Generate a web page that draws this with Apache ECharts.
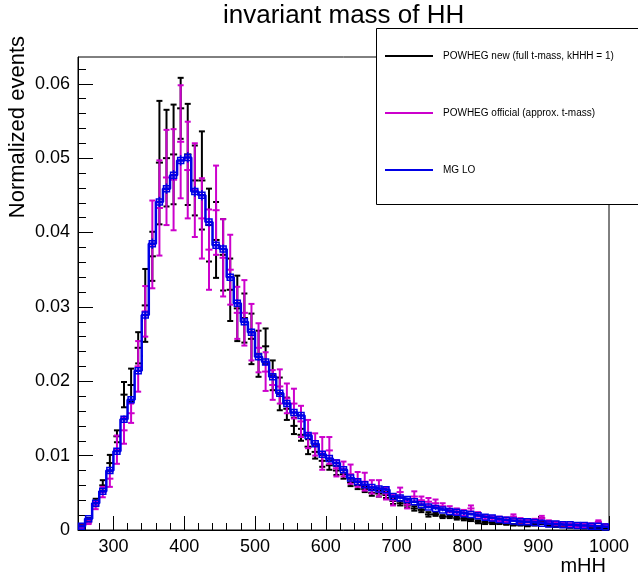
<!DOCTYPE html>
<html>
<head>
<meta charset="utf-8">
<script src="https://cdn.jsdelivr.net/npm/echarts@6/dist/echarts.min.js"></script>
<style>
  html, body { margin: 0; padding: 0; background: #fff; }
  #chart { width: 638px; height: 575px; }
</style>
</head>
<body>
<div id="chart"></div>
<script>
// lower edges of the mHH bins (10 GeV wide)
var binEdges = [
  250, 260, 270, 280, 290, 300, 310, 320, 330, 340,
  350, 360, 370, 380, 390, 400, 410, 420, 430, 440,
  450, 460, 470, 480, 490, 500, 510, 520, 530, 540,
  550, 560, 570, 580, 590, 600, 610, 620, 630, 640,
  650, 660, 670, 680, 690, 700, 710, 720, 730, 740,
  750, 760, 770, 780, 790, 800, 810, 820, 830, 840,
  850, 860, 870, 880, 890, 900, 910, 920, 930, 940,
  950, 960, 970, 980, 990
]
var binWidth = 10

// POWHEG new (full t-mass, kHHH = 1)
var newVals = [
  0.0005, 0.0013, 0.0037, 0.0060, 0.0090, 0.0126, 0.0182, 0.0195, 0.0245, 0.0302,
  0.0368, 0.0494, 0.0500, 0.0505, 0.0567, 0.0505, 0.0470, 0.0470, 0.0410, 0.0390,
  0.0370, 0.0323, 0.0298, 0.0285, 0.0257, 0.0237, 0.0247, 0.0208, 0.0183, 0.0163,
  0.0140, 0.0128, 0.0112, 0.0105, 0.0093, 0.0087, 0.0080, 0.0075, 0.0064, 0.0060,
  0.0055, 0.0050, 0.0049, 0.0047, 0.0039, 0.0036, 0.0033, 0.0029, 0.0027, 0.0021,
  0.0021, 0.0018, 0.0018, 0.0016, 0.0015, 0.0014, 0.0011, 0.0010, 0.0010, 0.0009,
  0.0008, 0.0007, 0.0007, 0.0006, 0.0007, 0.0012, 0.0006, 0.0005, 0.0005, 0.0004,
  0.0004, 0.0003, 0.0003, 0.0003, 0.0003
]
var newErrs = [
  0.0002, 0.0003, 0.0005, 0.0007, 0.0011, 0.0008, 0.0017, 0.0022, 0.0021, 0.0049,
  0.0033, 0.0083, 0.0065, 0.0067, 0.0041, 0.0068, 0.0047, 0.0066, 0.0049, 0.0051,
  0.0048, 0.0042, 0.0044, 0.0033, 0.0034, 0.0031, 0.0024, 0.0020, 0.0022, 0.0015,
  0.0011, 0.0008, 0.0010, 0.0009, 0.0008, 0.0006, 0.0006, 0.0006, 0.0005, 0.0005,
  0.0004, 0.0004, 0.0004, 0.0004, 0.0004, 0.0003, 0.0003, 0.0003, 0.0003, 0.0003,
  0.0002, 0.0002, 0.0002, 0.0002, 0.0002, 0.0002, 0.0002, 0.0002, 0.0002, 0.0001,
  0.0001, 0.0001, 0.0001, 0.0001, 0.0001, 0.0004, 0.0001, 0.0001, 0.0001, 0.0001,
  0.0001, 0.0001, 0.0001, 0.0001, 0.0001
]

// POWHEG official (approx. t-mass)
var offVals = [
  0.0004, 0.0011, 0.0033, 0.0051, 0.0069, 0.0108, 0.0134, 0.0157, 0.0220, 0.0294,
  0.0384, 0.0433, 0.0474, 0.0471, 0.0522, 0.0484, 0.0457, 0.0419, 0.0377, 0.0430,
  0.0366, 0.0350, 0.0292, 0.0292, 0.0266, 0.0245, 0.0213, 0.0195, 0.0193, 0.0177,
  0.0170, 0.0146, 0.0129, 0.0115, 0.0103, 0.0107, 0.0083, 0.0082, 0.0075, 0.0068,
  0.0065, 0.0058, 0.0056, 0.0049, 0.0040, 0.0051, 0.0034, 0.0045, 0.0040, 0.0038,
  0.0036, 0.0032, 0.0028, 0.0025, 0.0023, 0.0029, 0.0021, 0.0017, 0.0016, 0.0015,
  0.0014, 0.0018, 0.0013, 0.0012, 0.0013, 0.0016, 0.0011, 0.0009, 0.0008, 0.0007,
  0.0006, 0.0006, 0.0007, 0.0011, 0.0006
]
var offErrs = [
  0.0002, 0.0003, 0.0005, 0.0007, 0.0011, 0.0019, 0.0018, 0.0013, 0.0034, 0.0034,
  0.0059, 0.0064, 0.0064, 0.0068, 0.0076, 0.0065, 0.0063, 0.0054, 0.0054, 0.0060,
  0.0052, 0.0047, 0.0035, 0.0044, 0.0038, 0.0033, 0.0026, 0.0020, 0.0023, 0.0020,
  0.0020, 0.0021, 0.0019, 0.0015, 0.0022, 0.0018, 0.0011, 0.0010, 0.0013, 0.0010,
  0.0012, 0.0009, 0.0011, 0.0008, 0.0007, 0.0006, 0.0005, 0.0007, 0.0005, 0.0005,
  0.0005, 0.0004, 0.0004, 0.0004, 0.0004, 0.0004, 0.0003, 0.0003, 0.0003, 0.0003,
  0.0003, 0.0003, 0.0003, 0.0002, 0.0002, 0.0003, 0.0002, 0.0002, 0.0002, 0.0002,
  0.0002, 0.0002, 0.0002, 0.0002, 0.0002
]

// MG LO
var mgVals = [
  0.0005, 0.0015, 0.0036, 0.0052, 0.0080, 0.0106, 0.0149, 0.0175, 0.0214, 0.0289,
  0.0385, 0.0441, 0.0459, 0.0477, 0.0497, 0.0501, 0.0455, 0.0450, 0.0414, 0.0383,
  0.0378, 0.0340, 0.0305, 0.0280, 0.0266, 0.0233, 0.0226, 0.0206, 0.0184, 0.0170,
  0.0158, 0.0154, 0.0127, 0.0116, 0.0102, 0.0096, 0.0090, 0.0081, 0.0070, 0.0065,
  0.0061, 0.0057, 0.0055, 0.0054, 0.0045, 0.0043, 0.0041, 0.0038, 0.0034, 0.0031,
  0.0029, 0.0027, 0.0025, 0.0024, 0.0022, 0.0021, 0.0019, 0.0017, 0.0016, 0.0014,
  0.0013, 0.0012, 0.0011, 0.0011, 0.0010, 0.0009, 0.0008, 0.0008, 0.0007, 0.0007,
  0.0006, 0.0006, 0.0005, 0.0005, 0.0004
]
var mgErrs = [
  0.0001, 0.0002, 0.0003, 0.0003, 0.0004, 0.0004, 0.0005, 0.0005, 0.0005, 0.0006,
  0.0007, 0.0007, 0.0007, 0.0007, 0.0007, 0.0007, 0.0007, 0.0007, 0.0006, 0.0006,
  0.0006, 0.0006, 0.0005, 0.0005, 0.0005, 0.0005, 0.0005, 0.0004, 0.0004, 0.0004,
  0.0004, 0.0004, 0.0004, 0.0003, 0.0003, 0.0003, 0.0003, 0.0003, 0.0003, 0.0003,
  0.0003, 0.0003, 0.0002, 0.0002, 0.0002, 0.0002, 0.0002, 0.0002, 0.0002, 0.0002,
  0.0002, 0.0002, 0.0002, 0.0002, 0.0002, 0.0001, 0.0001, 0.0001, 0.0001, 0.0001,
  0.0001, 0.0001, 0.0001, 0.0001, 0.0001, 0.0001, 0.0001, 0.0001, 0.0001, 0.0001,
  0.0001, 0.0001, 0.0001, 0.0001, 0.0001
]

var xMajorTicks = [300, 400, 500, 600, 700, 800, 900, 1000]
var xMinorTicks = [260, 280, 320, 340, 360, 380, 420, 440, 460, 480, 520, 540, 560, 580,
  620, 640, 660, 680, 720, 740, 760, 780, 820, 840, 860, 880, 920, 940, 960, 980]
var yMajorTicks = [0, 0.01, 0.02, 0.03, 0.04, 0.05, 0.06]
var yMinorTicks = [0.002, 0.004, 0.006, 0.008, 0.012, 0.014, 0.016, 0.018,
  0.022, 0.024, 0.026, 0.028, 0.032, 0.034, 0.036, 0.038, 0.042, 0.044, 0.046, 0.048,
  0.052, 0.054, 0.056, 0.058, 0.062]

var names = ['POWHEG new (full t-mass, kHHH = 1)', 'POWHEG official (approx. t-mass)', 'MG LO']
var font = 'Liberation Sans'

function binData (vals, errs) {
  return binEdges.map(function (lo, i) {
    return [lo, lo + binWidth, vals[i], errs[i]]
  })
}

// histogram drawn like ROOT "E1": bin-width line + vertical error with caps
function errorItem (color, lw, cap, box) {
  return function (params, api) {
    var lo = api.value(0)
    var hi = api.value(1)
    var v = api.value(2)
    var e = api.value(3)
    var mid = (lo + hi) / 2
    var a = api.coord([lo, v])
    var b = api.coord([hi, v])
    var c = api.coord([mid, v])
    var t = api.coord([mid, v + e])
    var d = api.coord([mid, v - e])
    var st = { stroke: color, lineWidth: lw, fill: null }
    var kids = [
      { type: 'line', shape: { x1: a[0], y1: a[1], x2: b[0], y2: b[1] }, style: st },
      { type: 'line', shape: { x1: t[0], y1: t[1], x2: d[0], y2: d[1] }, style: st }
    ]
    if (cap) {
      kids.push({ type: 'line', shape: { x1: t[0] - cap, y1: t[1], x2: t[0] + cap, y2: t[1] }, style: st })
      kids.push({ type: 'line', shape: { x1: d[0] - cap, y1: d[1], x2: d[0] + cap, y2: d[1] }, style: st })
    }
    if (box) {
      kids.push({
        type: 'rect',
        shape: { x: c[0] - box / 2, y: c[1] - box / 2, width: box, height: box },
        style: { stroke: color, lineWidth: 1.5, fill: null }
      })
    }
    return { type: 'group', children: kids }
  }
}

// step outline for MG LO: one point per lower edge, plus the last upper edge
var mgStep = binEdges.map(function (lo, i) { return [lo, mgVals[i]] })
mgStep.push([binEdges[binEdges.length - 1] + binWidth, mgVals[mgVals.length - 1]])

var chart = echarts.init(document.getElementById('chart'))
chart.setOption({
  animation: false,
  backgroundColor: '#fff',
  title: {
    text: 'invariant mass of HH',
    left: 218,
    top: -2,
    textStyle: { fontSize: 26, fontWeight: 'normal', color: '#000', fontFamily: font }
  },
  grid: {
    show: true,
    left: 78,
    right: 29,
    top: 57,
    bottom: 45,
    outerBoundsMode: 'none',
    containLabel: false,
    borderColor: '#000',
    borderWidth: 1,
    backgroundColor: 'transparent'
  },
  legend: {
    orient: 'vertical',
    left: 385,
    top: 51,
    padding: 0,
    itemWidth: 48,
    itemHeight: 2,
    itemGap: 47,
    icon: 'rect',
    selectedMode: false,
    z: 10,
    data: names,
    textStyle: { fontSize: 10, color: '#000', fontFamily: font, padding: [0, 0, 0, 5] }
  },
  xAxis: [
    {
      type: 'value',
      min: 250,
      max: 1000,
      position: 'bottom',
      axisLine: { show: true, lineStyle: { color: '#000', width: 1 } },
      axisTick: { show: true, inside: true, length: 14, customValues: xMajorTicks, lineStyle: { color: '#000' } },
      axisLabel: {
        customValues: xMajorTicks,
        fontSize: 18,
        color: '#000',
        fontFamily: font,
        margin: 8,
        formatter: function (v) { return String(v) }
      },
      splitLine: { show: false }
    },
    {
      type: 'value',
      min: 250,
      max: 1000,
      position: 'bottom',
      axisLine: { show: false },
      axisTick: { show: true, inside: true, length: 7, customValues: xMinorTicks, lineStyle: { color: '#000' } },
      axisLabel: { show: false },
      splitLine: { show: false }
    }
  ],
  yAxis: [
    {
      type: 'value',
      min: 0,
      max: 0.0636,
      position: 'left',
      axisLine: { show: true, lineStyle: { color: '#000', width: 1 } },
      axisTick: { show: true, inside: true, length: 15, customValues: yMajorTicks, lineStyle: { color: '#000' } },
      axisLabel: {
        customValues: yMajorTicks,
        fontSize: 18,
        color: '#000',
        fontFamily: font,
        margin: 8,
        formatter: function (v) { return v === 0 ? '0' : v.toFixed(2) }
      },
      splitLine: { show: false }
    },
    {
      type: 'value',
      min: 0,
      max: 0.0636,
      position: 'left',
      axisLine: { show: false },
      axisTick: { show: true, inside: true, length: 8, customValues: yMinorTicks, lineStyle: { color: '#000' } },
      axisLabel: { show: false },
      splitLine: { show: false }
    }
  ],
  graphic: [
    {
      // y axis title, right-aligned to the top of the axis as ROOT does
      type: 'text',
      x: 18,
      y: 36,
      rotation: Math.PI / 2,
      style: {
        text: 'Normalized events',
        fontSize: 22,
        fontFamily: font,
        fill: '#000',
        align: 'right',
        verticalAlign: 'middle'
      }
    },
    {
      // x axis title, right-aligned under the end of the axis
      type: 'text',
      x: 606,
      y: 566,
      style: {
        text: 'mHH',
        fontSize: 20,
        fontFamily: font,
        fill: '#000',
        align: 'right',
        verticalAlign: 'middle'
      }
    },
    {
      type: 'rect',
      x: 376.5,
      y: 28.5,
      z: 3,
      shape: { width: 270, height: 176 },
      style: { fill: '#fff', stroke: '#000', lineWidth: 1 }
    }
  ],
  series: [
    {
      name: names[0],
      type: 'custom',
      xAxisIndex: 0,
      yAxisIndex: 0,
      itemStyle: { color: '#000' },
      renderItem: errorItem('#000', 2, 3, 0),
      encode: { x: [0, 1], y: 2 },
      data: binData(newVals, newErrs)
    },
    {
      name: names[1],
      type: 'custom',
      xAxisIndex: 0,
      yAxisIndex: 0,
      itemStyle: { color: '#cc00cc' },
      renderItem: errorItem('#cc00cc', 2, 3, 0),
      encode: { x: [0, 1], y: 2 },
      data: binData(offVals, offErrs)
    },
    {
      name: names[2],
      type: 'line',
      xAxisIndex: 0,
      yAxisIndex: 0,
      step: 'end',
      showSymbol: false,
      itemStyle: { color: '#0000e6' },
      lineStyle: { color: '#0000e6', width: 2.5 },
      data: mgStep
    },
    {
      name: names[2],
      type: 'custom',
      xAxisIndex: 0,
      yAxisIndex: 0,
      itemStyle: { color: '#0000e6' },
      renderItem: errorItem('#0000e6', 1.5, 0, 6),
      encode: { x: [0, 1], y: 2 },
      data: binData(mgVals, mgErrs)
    }
  ]
})
</script>
</body>
</html>
